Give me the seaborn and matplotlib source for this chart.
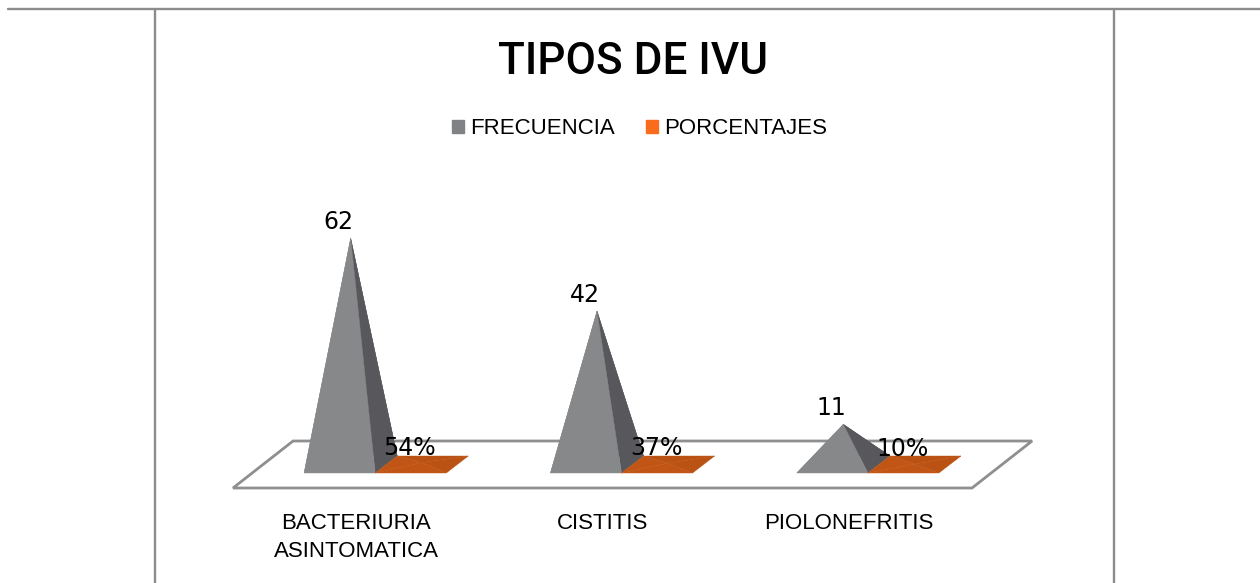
import pandas as pd
import seaborn as sns
import matplotlib.pyplot as plt
from matplotlib.lines import Line2D
from matplotlib.patches import Patch

categorias = ["BACTERIURIA\nASINTOMATICA", "CISTITIS", "PIOLONEFRITIS"]
frecuencia = [62, 42, 11]
porcentajes = [0.54, 0.37, 0.10]
series = ["FRECUENCIA", "PORCENTAJES"]

W, H = 1260, 583
PX_X = 246.0   # pixels per category
PX_Y = 3.65    # pixels per unit
FRAME = '#8c8c8c'

sns.set_theme(style='white')
plt.rcParams['font.family'] = ['Liberation Sans', 'DejaVu Sans']

df = pd.DataFrame({
    'tipo': categorias * 2,
    'valor': frecuencia + porcentajes,
    'serie': [series[0]] * 3 + [series[1]] * 3,
})

fig = plt.figure(figsize=(W / 100, H / 100), dpi=100, facecolor='white')
ax = fig.add_axes([233 / W, 1 - 488 / H, 739 / W, 288 / H])
ax.patch.set_alpha(0)

sns.barplot(data=df, x='tipo', y='valor', hue='serie', hue_order=series,
            width=0.577, legend=False, ax=ax)


def dx(px):
    return px / PX_X


def dy(px):
    return px / PX_Y


# floor of the 3d chart
ax.fill([-0.5, 2.5, 2.5 + dx(60), -0.5 + dx(60)],
        [dy(-23.5), dy(-23.5), dy(23.5), dy(23.5)],
        facecolor='white', edgecolor='#8f8f8f', lw=2.0, clip_on=False, zorder=1)

colores = [('#86888a', '#58585c'), ('#c05515', '#ba5213')]
offs_lbl = [16, 15]


def piramide(x0, x1, alto, frente, lado, z):
    fl = (x0 + dx(19), dy(-8.5))
    fr = (x1 + dx(19), dy(-8.5))
    bl = (x0 + dx(41), dy(8.5))
    br = (x1 + dx(41), dy(8.5))
    top = ((x0 + x1) / 2 + dx(30), alto)
    for cara, col in [((bl, br, top), lado), ((fl, bl, top), frente),
                      ((fr, br, top), lado), ((fl, fr, top), frente)]:
        xs, ys = zip(*cara)
        ax.fill(xs, ys, facecolor=col, edgecolor=col, lw=0.3, clip_on=False, zorder=z)
    return top


for i, cont in enumerate(ax.containers):
    for bar in cont:
        bar.set_visible(False)
        top = piramide(bar.get_x(), bar.get_x() + bar.get_width(), bar.get_height(),
                       colores[i][0], colores[i][1], 2 + i)
        v = bar.get_height()
        txt = str(int(v)) if i == 0 else f"{v:.0%}"
        ax.text(top[0] - dx(12), top[1] + dy(offs_lbl[i]), txt, ha='center', va='center',
                fontsize=17, color='black', family='DejaVu Sans', zorder=5)

ax.set_xlim(-0.5, 2.5)
ax.set_ylim(dy(-23.5), dy(264.5))
ax.set_xlabel('')
ax.set_ylabel('')
ax.set_yticks([])
ax.tick_params(axis='x', length=0, pad=18, labelsize=16, labelcolor='black')
for s in ax.spines.values():
    s.set_visible(False)
for t in ax.get_xticklabels():
    t.set_linespacing(1.45)

fig.text(632.5 / W, 1 - 62.5 / H, "TIPOS DE IVU", ha='center', va='center', fontsize=31.7,
         family=['Roboto', 'Liberation Sans'], weight='medium', color='black')

handles = [Patch(color='#808285', label=series[0]), Patch(color='#f96b1d', label=series[1])]
fig.legend(handles=handles, loc='center', bbox_to_anchor=(639.5 / W, 1 - 129 / H), ncol=2,
           frameon=False, fontsize=16.0, handlelength=0.56, handleheight=0.56,
           handletextpad=0.27, columnspacing=1.4, borderpad=0, labelcolor='black')

# page lines around the chart
for xs, ys in [((8, 1260), (9, 9)), ((154.5, 154.5), (9, 583)), ((1114, 1114), (9, 583))]:
    fig.add_artist(Line2D([x / W for x in xs], [1 - y / H for y in ys], color=FRAME, lw=1.7))

fig.savefig('out.png', dpi=100)
